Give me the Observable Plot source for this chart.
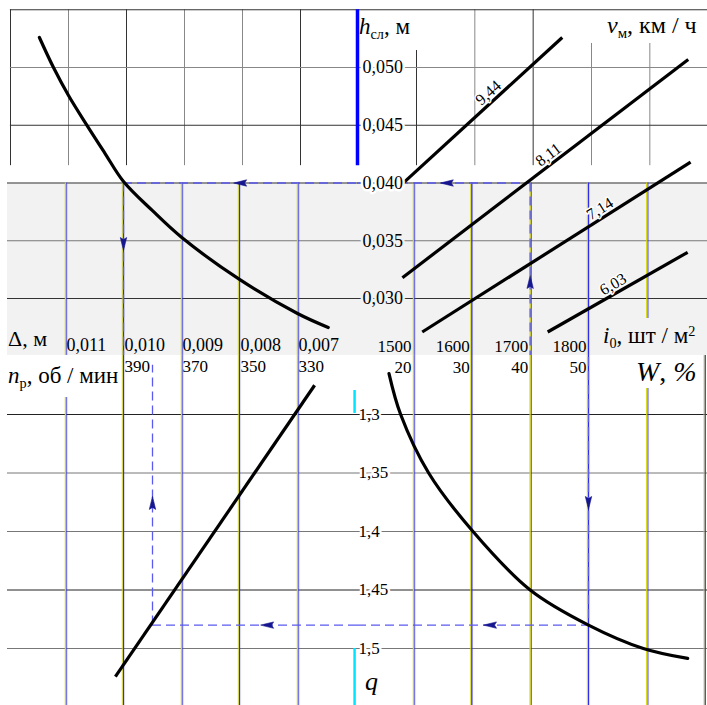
<!DOCTYPE html>
<html><head><meta charset="utf-8">
<script src="https://cdn.jsdelivr.net/npm/d3@7"></script>
<script src="https://cdn.jsdelivr.net/npm/@observablehq/plot@0.6"></script>
<style>
body{margin:0;background:#fff;}
#chart{position:relative;width:707px;height:705px;overflow:hidden;font-family:"Liberation Serif","Times New Roman",serif;background:#fff;}
#chart svg{position:absolute;left:0;top:0;}
.t{position:absolute;white-space:nowrap;line-height:1;color:#000;font-family:"Liberation Serif","Times New Roman",serif;}
.sb{font-size:0.62em;position:relative;top:0.35em;}
.sp{font-size:0.62em;position:relative;top:-0.5em;}
</style></head><body><div id="chart"></div><script>
// ---------- data ----------
const deltaTicks = [0.011, 0.010, 0.009, 0.008, 0.007];      // Δ, м
const hTicks = [0.050, 0.045, 0.040, 0.035, 0.030];          // h_сл, м
const i0Ticks = [1500, 1600, 1700, 1800];                    // i0, шт/м²
const nTicks = [390, 370, 350, 330];                         // n_р, об/мин
const wTicks = [20, 30, 40, 50];                             // W, %
const qTicks = [1.3, 1.35, 1.4, 1.45, 1.5];                  // q

// h_сл vs Δ
const curveDelta = [0.01145, 0.011207, 0.010948, 0.010638, 0.010328, 0.0100, 0.0095, 0.0090, 0.0080, 0.0070, 0.00647];
const curveH     = [0.0526, 0.0500, 0.04758, 0.04506, 0.04264, 0.04013, 0.0376, 0.0353, 0.03165, 0.0287, 0.02749];

// h_сл vs i0 for v_м
const vSeries  = ["9,44", "8,11", "7,14", "6,03"];
const vI0Start = [1478, 1481, 1515, 1730];
const vHStart  = [0.0398, 0.0318, 0.0271, 0.0271];
const vI0End   = [1755, 1971, 1975, 1970];
const vHEnd    = [0.0526, 0.0507, 0.0418, 0.0340];

// q vs n_р
const lineN = [392.8, 324.1];
const lineQ = [1.524, 1.275];

// q vs W
const curveW  = [15.8, 17.8, 22.6, 30.2, 40.0, 50.0, 59.4, 67.0];
const curveQ  = [1.265, 1.30, 1.35, 1.40, 1.45, 1.48, 1.50, 1.5085];

// key (dashed path)
const keyDelta = 0.010, keyH = 0.040, keyI0 = 1700, keyW = 50, keyQ = 1.48, keyN = 380;

// ---------- layout / style constants ----------
const W = 707, H = 705;
const SERIF = "Liberation Serif, Times New Roman, serif";
const CENTER_DELTA = 0.0059655, LEFT_DELTA = 0.012;
const CENTER_I0 = 1404, RIGHT_I0 = 2004;
const CENTER_N = 309.3, LEFT_N = 430;
const CENTER_W = 10.4, RIGHT_W = 70.4;
const TOP_H = 0.055, WHITE_END_H = 0.0415, BAND_TOP_H = 0.040, BAND_BOT_H = 0.02507;
const BOT_TOP_Q = 1.2496, BOT_END_Q = 1.5487;
const YEL = "#d6d600", BLU = "#2e2ef2", DASH = "#5a5af0", ARROW = "#16168f", GRAY = "#f2f2f2";
const labelFrac = [0.58, 0.53, 0.68, 0.50];
const labelAngle = [-42, -37, -32, -30];
const labelGap = 4;

const chart = document.getElementById("chart");
const fmt = (v, d) => v.toFixed(d).replace(".", ",");
function mk(opts) {
  const svg = Plot.plot({width: W, height: H, ...opts,
    style: {background: "transparent", overflow: "visible", fontFamily: SERIF}});
  chart.appendChild(svg);
}
const arrowSym = {
  up:   {draw(c){ c.moveTo(0,-7); c.lineTo(3.2,6); c.lineTo(0,4); c.lineTo(-3.2,6); c.closePath(); }},
  down: {draw(c){ c.moveTo(0,7); c.lineTo(3.2,-6); c.lineTo(0,-4); c.lineTo(-3.2,-6); c.closePath(); }},
  left: {draw(c){ c.moveTo(-7,0); c.lineTo(6,-3.2); c.lineTo(4,0); c.lineTo(6,3.2); c.closePath(); }}
};
const arrow = (x, y, dir) => Plot.dot([0], {x, y, symbol: arrowSym[dir], fill: ARROW, stroke: ARROW, strokeWidth: 0.6, r: 4});
// coloured double band lines
function bandLines(vals, y1, y2) {
  const ev = vals.filter((d, i) => i % 2 === 0), od = vals.filter((d, i) => i % 2 === 1);
  return [
    Plot.ruleX(ev, {x: d => d, y1, y2, stroke: YEL, strokeWidth: 1.4}),
    Plot.ruleX(ev, {x: d => d, y1, y2, stroke: BLU, strokeWidth: 0.8, dx: 1.2}),
    Plot.ruleX(od, {x: d => d, y1, y2, stroke: BLU, strokeWidth: 1.4}),
    Plot.ruleX(od, {x: d => d, y1, y2, stroke: YEL, strokeWidth: 0.8, dx: -1.2})
  ];
}
const tickText = {fill: "black", fontFamily: SERIF};

// ---------- top-left: h_сл vs Δ ----------
mk({
  marginLeft: 65, marginRight: W - 297, marginTop: 67, marginBottom: H - 298,
  x: {domain: [0.011, 0.007], axis: null},
  y: {domain: [0.030, 0.050], axis: null},
  marks: [
    Plot.rect([0], {x1: LEFT_DELTA, x2: CENTER_DELTA, y1: BAND_BOT_H, y2: BAND_TOP_H, fill: GRAY}),
    Plot.ruleX([0.012, 0.010, 0.007], {x: d => d, y1: TOP_H, y2: WHITE_END_H, stroke: "#333", dx: 3}),
    Plot.ruleX([0.011, 0.009, 0.008], {x: d => d, y1: TOP_H, y2: WHITE_END_H, stroke: "#888", dx: 3}),
    Plot.ruleY([0.055, 0.045], {y: d => d, x1: 0.01195, x2: CENTER_DELTA, stroke: "#333"}),
    Plot.ruleY([0.050], {y: d => d, x1: 0.01195, x2: CENTER_DELTA, stroke: "#888"}),
    Plot.ruleY([0.040, 0.030], {y: d => d, x1: LEFT_DELTA, x2: CENTER_DELTA, stroke: "#333"}),
    Plot.ruleY([0.035], {y: d => d, x1: LEFT_DELTA, x2: CENTER_DELTA, stroke: "#777"}),
    ...bandLines(deltaTicks, BAND_TOP_H, BAND_BOT_H),
    Plot.ruleY([keyH], {y: d => d, x1: keyDelta, x2: CENTER_DELTA, stroke: DASH, strokeWidth: 1.3, strokeDasharray: "9,5"}),
    Plot.ruleX([keyDelta], {x: d => d, y1: keyH, y2: BAND_BOT_H, stroke: DASH, strokeWidth: 1.3, strokeDasharray: "9,5"}),
    Plot.line(curveDelta.map((d, i) => [d, curveH[i]]), {stroke: "black", strokeWidth: 3.2, curve: "catmull-rom"}),
    arrow(0.00798, keyH, "left"),
    arrow(keyDelta, 0.03476, "down"),
    Plot.text(deltaTicks, {x: d => d, y: 0.02593, text: d => fmt(d, 3), textAnchor: "start", dx: 1, fontSize: 18, ...tickText})
  ]
});

// ---------- top-right: h_сл vs i0 ----------
const vIdx = d3.range(vSeries.length);
const rad = a => a * Math.PI / 180;
mk({
  marginLeft: 413, marginRight: W - 588, marginTop: 67, marginBottom: H - 298,
  x: {domain: [1500, 1800], axis: null},
  y: {domain: [0.030, 0.050], axis: null},
  marks: [
    Plot.rect([0], {x1: CENTER_I0, x2: RIGHT_I0, y1: BAND_BOT_H, y2: BAND_TOP_H, fill: GRAY}),
    Plot.ruleX([1500, 1700], {x: d => d, y1: d => d === 1500 ? 0.05147 : TOP_H, y2: WHITE_END_H, stroke: "#333", dx: 3}),
    Plot.ruleX([1600, 1800, 1900], {x: d => d, y1: d => d === 1600 ? TOP_H : 0.05208, y2: WHITE_END_H, stroke: "#888", dx: 3}),
    Plot.ruleY([0.055, 0.045], {y: d => d, x1: CENTER_I0, x2: RIGHT_I0, stroke: "#333"}),
    Plot.ruleY([0.050], {y: d => d, x1: CENTER_I0, x2: RIGHT_I0, stroke: "#888"}),
    Plot.ruleX([CENTER_I0], {x: d => d, y1: TOP_H, y2: WHITE_END_H, stroke: "#0000ff", strokeWidth: 3.5}),
    Plot.ruleY([0.040, 0.030], {y: d => d, x1: CENTER_I0, x2: RIGHT_I0, stroke: "#333"}),
    Plot.ruleY([0.035], {y: d => d, x1: CENTER_I0, x2: RIGHT_I0, stroke: "#777"}),
    ...bandLines([1500, 1600, 1700, 1800], BAND_TOP_H, BAND_BOT_H),
    Plot.ruleX([1900], {x: d => d, y1: BAND_TOP_H, y2: 0.02827, stroke: YEL, strokeWidth: 1.4}),
    Plot.ruleX([1900], {x: d => d, y1: BAND_TOP_H, y2: 0.02827, stroke: BLU, strokeWidth: 0.8, dx: 1.2}),
    Plot.ruleY([keyH], {y: d => d, x1: CENTER_I0, x2: keyI0, stroke: DASH, strokeWidth: 1.3, strokeDasharray: "9,5"}),
    Plot.ruleX([keyI0], {x: d => d, y1: keyH, y2: BAND_BOT_H, stroke: DASH, strokeWidth: 1.3, strokeDasharray: "9,5"}),
    Plot.link(vIdx, {x1: i => vI0Start[i], y1: i => vHStart[i], x2: i => vI0End[i], y2: i => vHEnd[i], stroke: "black", strokeWidth: 3.2}),
    ...vIdx.map(i => Plot.text([i], {
      x: vI0Start[i] + labelFrac[i] * (vI0End[i] - vI0Start[i]),
      y: vHStart[i] + labelFrac[i] * (vHEnd[i] - vHStart[i]),
      text: () => vSeries[i], rotate: labelAngle[i], lineAnchor: "bottom",
      dx: labelGap * Math.sin(rad(labelAngle[i])), dy: -labelGap * Math.cos(rad(labelAngle[i])),
      fontSize: 16, stroke: "white", strokeWidth: 3, paintOrder: "stroke", ...tickText})),
    arrow(1558, keyH, "left"),
    arrow(keyI0, 0.03139, "up"),
    Plot.text([0.050, 0.045, 0.040], {x: CENTER_I0, y: d => d, text: d => fmt(d, 3), textAnchor: "start", dx: 5, fontSize: 18,
      stroke: "white", strokeWidth: 5, paintOrder: "stroke", ...tickText}),
    Plot.text([0.035, 0.030], {x: CENTER_I0, y: d => d, text: d => fmt(d, 3), textAnchor: "start", dx: 5, fontSize: 18,
      stroke: GRAY, strokeWidth: 5, paintOrder: "stroke", ...tickText}),
    Plot.text(i0Ticks, {x: d => d, y: 0.02584, text: d => String(d), textAnchor: "end", dx: -2, fontSize: 17, ...tickText})
  ]
});

// ---------- bottom-left: q vs n_р ----------
mk({
  marginLeft: 123, marginRight: W - 297, marginTop: 414, marginBottom: H - 648,
  x: {domain: [390, 330], axis: null},
  y: {domain: [1.5, 1.3], axis: null},
  marks: [
    Plot.ruleY([1.3, 1.45], {y: d => d, x1: LEFT_N, x2: CENTER_N, stroke: "#222"}),
    Plot.ruleY([1.35, 1.4, 1.5], {y: d => d, x1: LEFT_N, x2: CENTER_N, stroke: "#777"}),
    ...bandLines([410, 390, 370, 350, 330], d => d === 410 ? 1.2855 : BOT_TOP_Q, BOT_END_Q),
    Plot.ruleY([keyQ], {y: d => d, x1: keyN, x2: CENTER_N, stroke: DASH, strokeWidth: 1.3, strokeDasharray: "9,5"}),
    Plot.ruleX([keyN], {x: d => d, y1: keyQ, y2: 1.258, stroke: DASH, strokeWidth: 1.3, strokeDasharray: "9,5"}),
    Plot.link([0], {x1: lineN[0], y1: lineQ[0], x2: lineN[1], y2: lineQ[1], stroke: "black", strokeWidth: 3.2}),
    arrow(340.3, keyQ, "left"),
    arrow(keyN, 1.376, "up"),
    Plot.text(nTicks, {x: d => d, y: 1.259, text: d => String(d), textAnchor: "start", dx: 1, fontSize: 17, ...tickText})
  ]
});

// ---------- bottom-right: q vs W ----------
mk({
  marginLeft: 413, marginRight: W - 588, marginTop: 414, marginBottom: H - 648,
  x: {domain: [20, 50], axis: null},
  y: {domain: [1.5, 1.3], axis: null},
  marks: [
    Plot.ruleY([1.3, 1.45], {y: d => d, x1: CENTER_W, x2: RIGHT_W, stroke: "#222"}),
    Plot.ruleY([1.35, 1.4, 1.5], {y: d => d, x1: CENTER_W, x2: RIGHT_W, stroke: "#777"}),
    ...bandLines([20, 30, 40, 50, 60, 70], d => d === 60 ? 1.2778 : BOT_TOP_Q, BOT_END_Q),
    Plot.ruleX([9.9], {x: d => d, y1: 1.2795, y2: 1.2991, stroke: "#00e5ff", strokeWidth: 2.5}),
    Plot.ruleX([9.9], {x: d => d, y1: 1.5, y2: BOT_END_Q, stroke: "#00e5ff", strokeWidth: 2.5}),
    Plot.ruleX([keyW], {x: d => d, y1: 1.2513, y2: keyQ, stroke: DASH, strokeWidth: 1.3, strokeDasharray: "9,5"}),
    Plot.ruleY([keyQ], {y: d => d, x1: CENTER_W, x2: keyW, stroke: DASH, strokeWidth: 1.3, strokeDasharray: "9,5"}),
    Plot.line(curveW.map((d, i) => [d, curveQ[i]]), {stroke: "black", strokeWidth: 3.2, curve: "catmull-rom"}),
    arrow(keyW, 1.3752, "down"),
    arrow(33.2, keyQ, "left"),
    Plot.text(wTicks, {x: d => d, y: 1.2598, text: d => String(d), textAnchor: "end", dx: -2, fontSize: 17, ...tickText}),
    Plot.text(qTicks, {x: CENTER_W, y: d => d, text: d => fmt(d, d === 1.3 || d === 1.4 || d === 1.5 ? 1 : 2), textAnchor: "start", dx: 1,
      fontSize: 17, stroke: "white", strokeWidth: 5, paintOrder: "stroke", ...tickText})
  ]
});

// ---------- axis titles ----------
function title(html, left, baseline, size) {
  const d = document.createElement("div");
  d.className = "t";
  d.style.left = left + "px";
  d.style.top = (baseline - 0.84 * size) + "px";
  d.style.fontSize = size + "px";
  d.innerHTML = html;
  chart.appendChild(d);
}
title('<i>h</i><span class="sb">сл</span>, м', 359, 34, 23);
title('<i>v</i><span class="sb">м</span>, км / ч', 607, 33, 24);
title('Δ, м', 8, 346, 22);
title('<i>n</i><span class="sb">р</span>, об / мин', 8, 383, 23);
title('<i>i</i><span class="sb">0</span>, шт / м<span class="sp">2</span>', 603, 343, 23);
title('<i>W</i>, <i>%</i>', 636, 382, 28);
title('<i>q</i>', 365, 691, 26);
</script></body></html>
